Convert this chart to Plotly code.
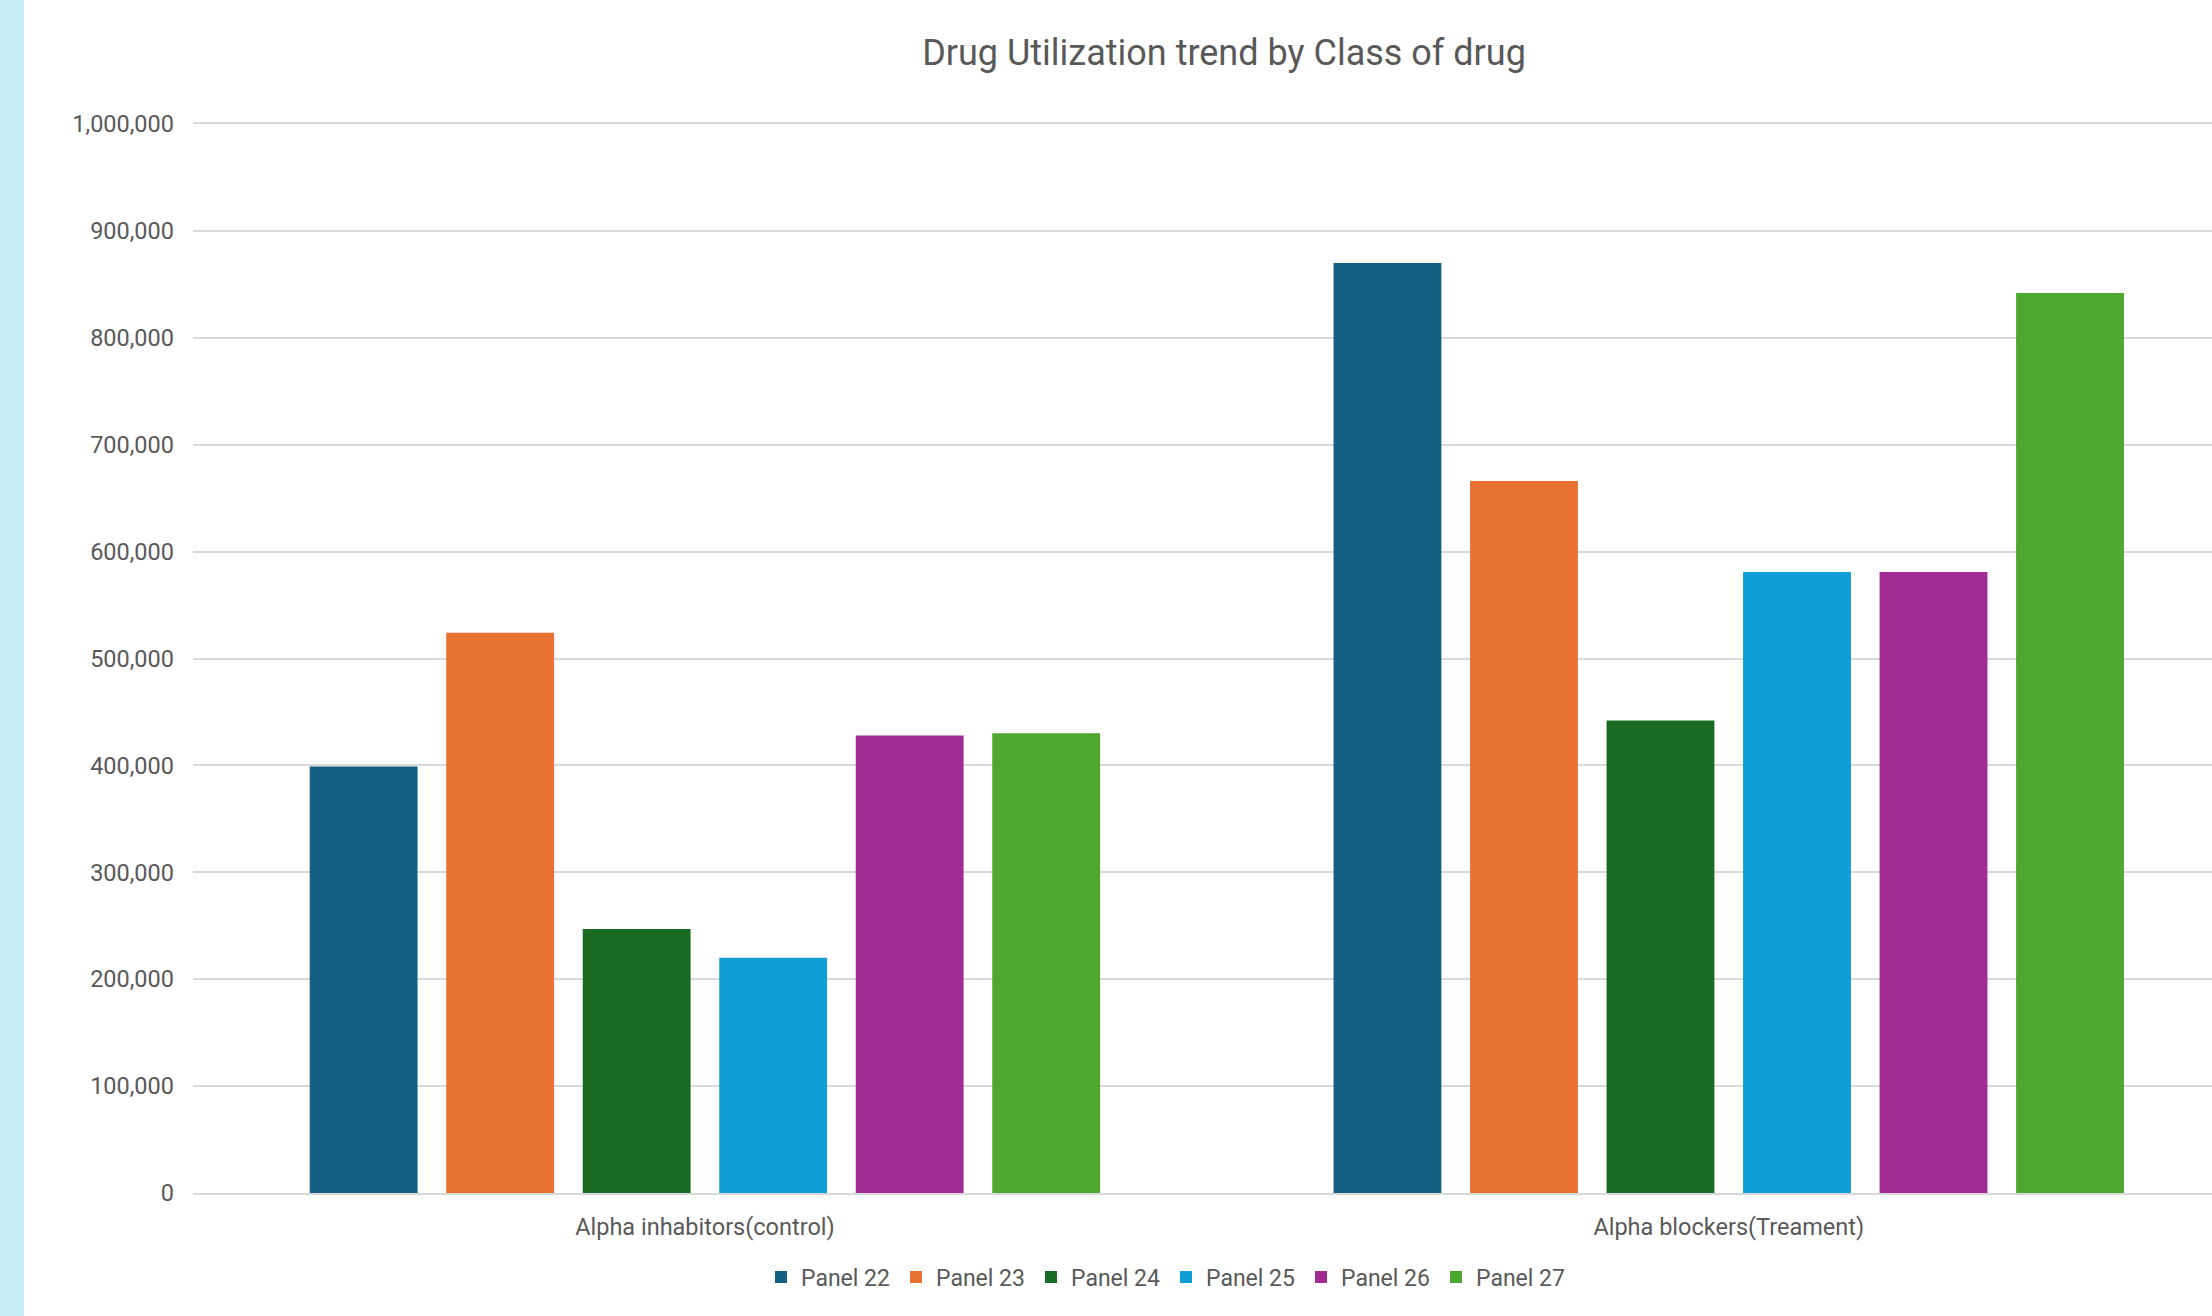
import plotly.graph_objects as go

categories = ["Alpha inhabitors(control)", "Alpha blockers(Treament)"]
series_names = ["Panel 22", "Panel 23", "Panel 24", "Panel 25", "Panel 26", "Panel 27"]
panel_22 = [399000, 870000]
panel_23 = [524000, 666000]
panel_24 = [247000, 442000]
panel_25 = [220000, 581000]
panel_26 = [428000, 581000]
panel_27 = [430000, 842000]
series_values = [panel_22, panel_23, panel_24, panel_25, panel_26, panel_27]
colors = ["#156082", "#E97132", "#196B24", "#0F9ED5", "#A02B93", "#4EA72E"]
y_ticks = [0, 100000, 200000, 300000, 400000, 500000, 600000, 700000, 800000, 900000, 1000000]

W, H = 2212, 1316
ML, MR, MT, MB = 193, 0, 124, 123
PW = W - ML - MR
PH = H - MT - MB

fig = go.Figure()
for name, vals, col in zip(series_names, series_values, colors):
    fig.add_trace(go.Bar(
        name=name, x=categories, y=vals,
        marker=dict(color=col, line=dict(width=0)),
    ))

text_col = "#595959"
font_fam = "Roboto, Open Sans, sans-serif"

fig.update_layout(
    width=W, height=H,
    margin=dict(l=ML, r=MR, t=MT, b=MB, pad=0),
    paper_bgcolor="white", plot_bgcolor="white",
    barmode="group", bargap=0.2, bargroupgap=0.21,
    font=dict(family=font_fam, color=text_col, size=22),
    title=dict(
        text="Drug Utilization trend by Class of drug",
        font=dict(family=font_fam, size=36, color=text_col),
        x=(1224 - ML) / PW, xref="paper", xanchor="center",
        y=1 - 52 / H, yref="container", yanchor="middle",
    ),
    showlegend=True,
    legend=dict(
        orientation="h",
        x=(1166 - ML) / PW, xanchor="center",
        y=-(1277 - (H - MB)) / PH, yanchor="middle",
        font=dict(family=font_fam, size=23, color=text_col),
        bgcolor="rgba(0,0,0,0)",
        entrywidth=90, entrywidthmode="pixels",
        traceorder="normal",
    ),
    xaxis=dict(
        type="category",
        range=[-0.5, 1.472],
        showgrid=False, zeroline=False,
        showline=True, linecolor="#D9D9D9", linewidth=2, mirror="all",
        ticks="", ticklabelstandoff=12,
        tickfont=dict(family=font_fam, size=23.5, color=text_col),
        fixedrange=True,
    ),
    yaxis=dict(
        range=[0, 1000000],
        tickvals=y_ticks, tickformat=",d",
        showgrid=True, gridcolor="#D9D9D9", gridwidth=2,
        zeroline=False, showline=False,
        ticks="", ticklabelstandoff=18,
        tickfont=dict(family=font_fam, size=23.5, color=text_col),
        fixedrange=True,
    ),
    shapes=[dict(
        type="rect", xref="paper", yref="paper",
        x0=-ML / PW, x1=(24 - ML) / PW,
        y0=-(MB + 5) / PH, y1=1 + (MT + 5) / PH,
        fillcolor="#C8ECFA", line=dict(width=0), layer="below",
    )],
)

fig.write_html("out.html", config=dict(displayModeBar=False))
